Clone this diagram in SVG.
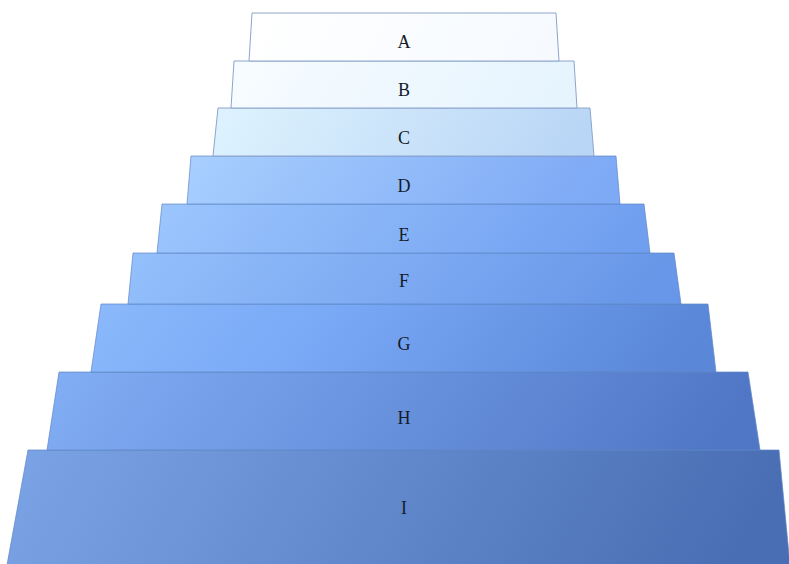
<svg xmlns="http://www.w3.org/2000/svg" width="789" height="564" viewBox="0 0 789 564">
<style>
.step{stroke-width:1;stroke-linejoin:miter}
.lt{stroke:#8ea4cc}
.dk{stroke:#5f86c4;stroke-opacity:0.7}
.lbl{font-family:"Liberation Serif","Times New Roman",serif;font-size:18px;fill:#151b2a;text-anchor:middle}
</style>
<defs>
<linearGradient id="gA" x1="0" y1="0" x2="1" y2="0.08"><stop offset="0" stop-color="#ffffff"/><stop offset="1" stop-color="#f6faff"/></linearGradient>
<linearGradient id="gB" x1="0" y1="0" x2="1" y2="0.08"><stop offset="0" stop-color="#f7fcff"/><stop offset="1" stop-color="#e6f4fe"/></linearGradient>
<linearGradient id="gC" x1="0" y1="0" x2="1" y2="0.08"><stop offset="0" stop-color="#def3fe"/><stop offset="1" stop-color="#bad6f6"/></linearGradient>
<linearGradient id="gD" x1="0" y1="0" x2="1" y2="0.08"><stop offset="0" stop-color="#a8cffe"/><stop offset="1" stop-color="#7ea9f5"/></linearGradient>
<linearGradient id="gE" x1="0" y1="0" x2="1" y2="0.08"><stop offset="0" stop-color="#9cc6fd"/><stop offset="1" stop-color="#719ff0"/></linearGradient>
<linearGradient id="gF" x1="0" y1="0" x2="1" y2="0.08"><stop offset="0" stop-color="#94c0fc"/><stop offset="1" stop-color="#6896e8"/></linearGradient>
<linearGradient id="gG" x1="0" y1="0" x2="1" y2="0.08"><stop offset="0" stop-color="#8bb9fb"/><stop offset="0.4" stop-color="#79a8f6"/><stop offset="1" stop-color="#5a87d8"/></linearGradient>
<linearGradient id="gH" x1="0" y1="0" x2="1" y2="0.08"><stop offset="0" stop-color="#82aef5"/><stop offset="1" stop-color="#5077c6"/></linearGradient>
<linearGradient id="gI" x1="0" y1="0" x2="1" y2="0.08"><stop offset="0" stop-color="#7ba4e6"/><stop offset="1" stop-color="#496eb3"/></linearGradient>
</defs>
<rect x="0" y="0" width="789" height="564" fill="#ffffff"/>
<g id="nodeI"><polygon class="step dk" fill="url(#gI)" points="28,450 779,450 790,565 7,565"/><text class="lbl" x="404" y="514">I</text></g>
<g id="nodeH"><polygon class="step dk" fill="url(#gH)" points="59,372 748,372 760,450 47,450"/><text class="lbl" x="404" y="424">H</text></g>
<g id="nodeG"><polygon class="step dk" fill="url(#gG)" points="101,304 708,304 716,372 91,372"/><text class="lbl" x="404" y="350">G</text></g>
<g id="nodeF"><polygon class="step dk" fill="url(#gF)" points="133,253 674,253 681,304 128,304"/><text class="lbl" x="404" y="287">F</text></g>
<g id="nodeE"><polygon class="step dk" fill="url(#gE)" points="162,204 644,204 650,253 157,253"/><text class="lbl" x="404" y="241">E</text></g>
<g id="nodeD"><polygon class="step dk" fill="url(#gD)" points="191,156 616,156 620,204 187,204"/><text class="lbl" x="404" y="192">D</text></g>
<g id="nodeC"><polygon class="step lt" fill="url(#gC)" points="218,108 590,108 594,156 213,156"/><text class="lbl" x="404" y="144">C</text></g>
<g id="nodeB"><polygon class="step lt" fill="url(#gB)" points="234,61 574,61 577,108 231,108"/><text class="lbl" x="404" y="96">B</text></g>
<g id="nodeA"><polygon class="step lt" fill="url(#gA)" points="252,13 556,13 559,61 249,61"/><text class="lbl" x="404" y="48">A</text></g>
<g id="connectors"/>
</svg>
